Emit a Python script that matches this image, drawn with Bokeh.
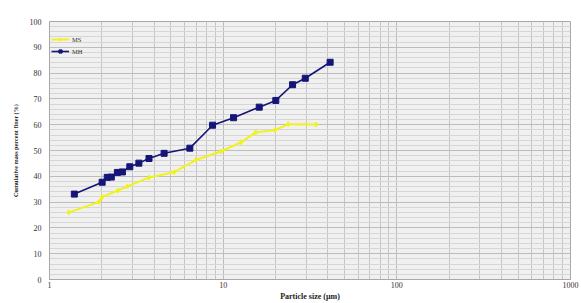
from bokeh.plotting import figure
from bokeh.models import FixedTicker, NumeralTickFormatter, Legend, LegendItem
from bokeh.embed import file_html
from bokeh.resources import INLINE

# Data
ms_size = [1.29, 1.92, 2.01, 2.48, 2.81, 3.74, 5.22, 6.96, 9.70, 12.7, 15.4, 19.9, 23.7, 34.3]
ms_finer = [26.0, 30.0, 32.0, 34.5, 36.1, 39.5, 41.6, 46.3, 49.6, 53.2, 57.0, 57.9, 60.2, 60.1]
mh_size = [1.39, 2.01, 2.15, 2.27, 2.46, 2.63, 2.90, 3.27, 3.74, 4.57, 6.43, 8.69, 11.48, 16.13, 20.1, 25.1, 29.7, 41.3]
mh_finer = [33.1, 37.7, 39.6, 39.7, 41.5, 41.7, 43.7, 45.1, 46.9, 48.9, 50.9, 59.8, 62.7, 66.8, 69.4, 75.5, 78.0, 84.2]
x_major = [1, 10, 100, 1000]
x_minor = [2, 3, 4, 5, 6, 7, 8, 9, 20, 30, 40, 50, 60, 70, 80, 90, 200, 300, 400, 500, 600, 700, 800, 900]
y_major = [0, 10, 20, 30, 40, 50, 60, 70, 80, 90, 100]
y_minor = [v for v in range(0, 101, 2) if v % 10 != 0]

p = figure(x_axis_type="log", x_range=(1, 1000), y_range=(0, 100),
           frame_width=521, frame_height=258,
           min_border_left=49, min_border_right=11, min_border_top=21, min_border_bottom=23,
           output_backend="svg", toolbar_location=None,
           background_fill_color="#f0f0f0", border_fill_color="white")

p.xaxis.ticker = FixedTicker(ticks=x_major, minor_ticks=x_minor)
p.yaxis.ticker = FixedTicker(ticks=y_major, minor_ticks=y_minor)
p.xaxis.formatter = NumeralTickFormatter(format="0")

p.xgrid.grid_line_color = "#bdbdbd"
p.xgrid.minor_grid_line_color = "#c6c6c6"
p.ygrid.grid_line_color = "#bdbdbd"
p.ygrid.minor_grid_line_color = "#d6d6d6"

for ax in (p.xaxis[0], p.yaxis[0]):
    ax.major_tick_line_color = None
    ax.minor_tick_line_color = None
    ax.major_tick_out = 0
    ax.major_tick_in = 0
    ax.minor_tick_out = 0
    ax.minor_tick_in = 0
    ax.axis_line_color = "#a8a8a8"
    ax.major_label_text_font = "Liberation Serif"
    ax.major_label_text_font_size = "8px"
    ax.major_label_text_color = "#333333"
    ax.axis_label_text_font = "Liberation Serif"
    ax.axis_label_text_font_style = "bold"
    ax.axis_label_text_color = "#222222"

p.xaxis.axis_label = "Particle size (\u00b5m)"
p.yaxis.axis_label = "Cumulative mass percent finer (%)"
p.xaxis.axis_label_text_font_size = "8px"
p.yaxis.axis_label_text_font_size = "6.2px"
p.xaxis.major_label_standoff = 2
p.yaxis.major_label_standoff = 8
p.xaxis.axis_label_standoff = 1
p.yaxis.axis_label_standoff = 8
p.outline_line_color = "#a8a8a8"

ms_line = p.line(ms_size, ms_finer, line_color="#f2f21a", line_width=2)
ms_pts = p.scatter(ms_size, ms_finer, marker="diamond", size=5, fill_color="#f2f21a", line_color="#f2f21a")
mh_line = p.line(mh_size, mh_finer, line_color="#151578", line_width=1.6)
mh_pts = p.scatter(mh_size, mh_finer, marker="square", size=6, fill_color="#151578", line_color="#151578")

legend = Legend(items=[LegendItem(label="MS", renderers=[ms_line, ms_pts]),
                       LegendItem(label="MH", renderers=[mh_line, mh_pts])],
                location=(2, 224), margin=0, padding=7, spacing=4,
                glyph_height=8, glyph_width=18, label_height=8, label_standoff=3,
                label_text_font="Liberation Serif", label_text_font_size="6.5px",
                label_text_color="#333333",
                background_fill_alpha=0, border_line_color=None)
p.add_layout(legend)

open("out.html", "w").write(file_html(p, INLINE))
